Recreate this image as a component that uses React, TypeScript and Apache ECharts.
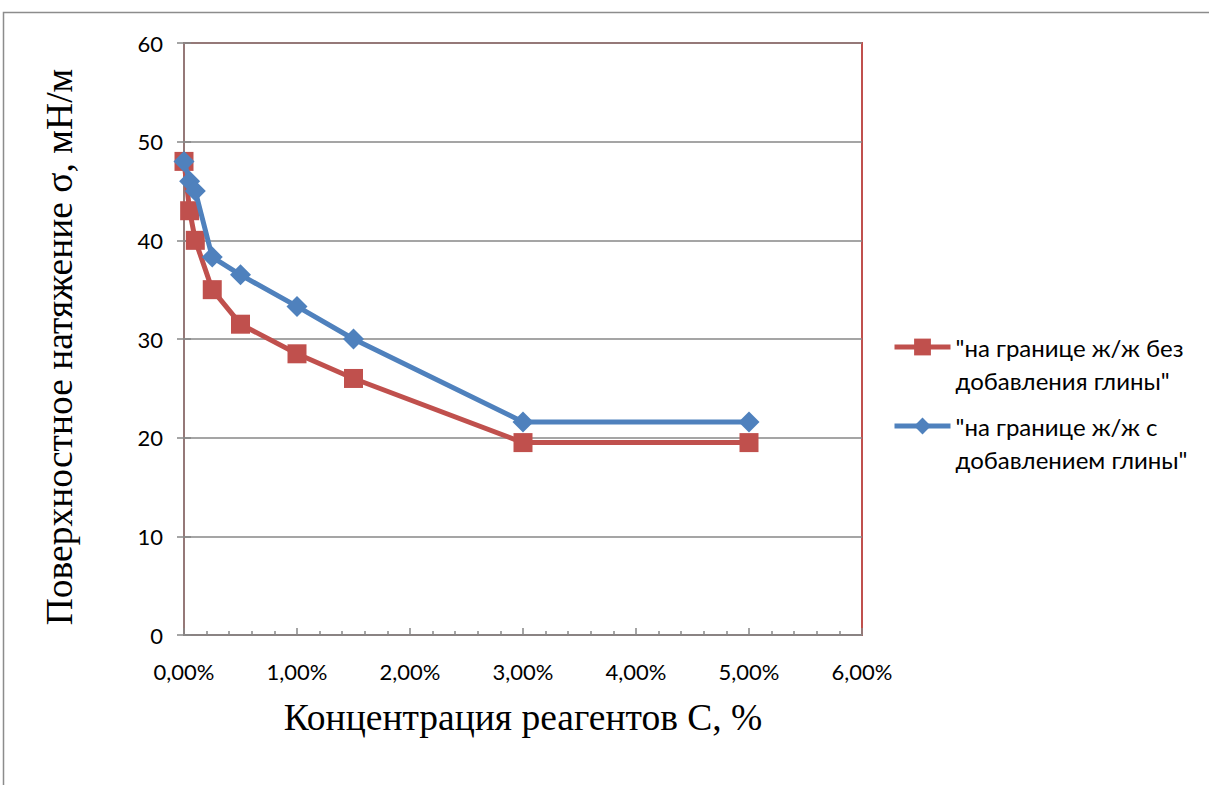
import { useEffect, useRef } from "react";
import * as echarts from "echarts";

// Reagent concentration, %
const concentration = [0, 0.05, 0.1, 0.25, 0.5, 1, 1.5, 3, 5];
// Surface tension, mN/m
const withoutClay = [48, 43, 40, 35, 31.5, 28.5, 26, 19.5, 19.5];
const withClay = [48, 46, 45, 38.3, 36.5, 33.3, 30, 21.6, 21.6];

const seriesNames = [
  '"на границе ж/ж без\nдобавления глины"',
  '"на границе ж/ж с\nдобавлением глины"',
];
const xTitle = "Концентрация реагентов С, %";
const yTitle = "Поверхностное натяжение σ, мН/м";

const RED = "#C0504D";
const BLUE = "#4F81BD";
const GRAY = "#878787";
const LABEL_FONT = "Lato, 'Noto Sans', sans-serif";
const SERIF = "'Liberation Serif', 'DejaVu Serif', serif";

export default function App() {
  const ref = useRef<HTMLDivElement>(null);

  useEffect(() => {
    if (!ref.current) return;
    const chart = echarts.init(ref.current, undefined, { renderer: "svg" });

    const pairs = (ys: number[]) => concentration.map((x, i) => [x, ys[i]]);

    // Legend entries: the leading blank line puts the first text line level with the icon
    const legendFor = (name: string, top: number) => ({
      data: [name],
      left: 892,
      top,
      orient: "vertical",
      itemWidth: 56,
      itemHeight: 21,
      padding: 0,
      lineStyle: { width: 5 },
      formatter: (n: string) => "\n" + n,
      textStyle: {
        color: "#000",
        fontFamily: LABEL_FONT,
        fontSize: 24,
        lineHeight: 33,
      },
    });

    chart.setOption({
      animation: false,
      backgroundColor: "#fff",
      graphic: [
        {
          type: "polyline",
          shape: { points: [[3.5, 800], [3.5, 12.5], [1220, 12.5]] },
          style: { stroke: "#8c8c8c", lineWidth: 1.5, fill: "none" },
          z: 0,
        },
      ],
      grid: {
        left: 184,
        top: 43,
        width: 678,
        height: 592,
        show: true,
        borderColor: RED,
        borderWidth: 2,
        backgroundColor: "transparent",
      },
      legend: [legendFor(seriesNames[0], 297.5), legendFor(seriesNames[1], 376.5)],
      xAxis: {
        type: "value",
        min: 0,
        max: 6,
        interval: 1,
        name: xTitle,
        nameLocation: "middle",
        nameGap: 63,
        nameTextStyle: { fontFamily: SERIF, fontSize: 37.5, color: "#000" },
        axisLine: { show: true, lineStyle: { color: GRAY, width: 1.5 } },
        axisTick: { show: true, inside: true, length: 7, lineStyle: { color: GRAY, width: 1.5 } },
        minorTick: { show: true, splitNumber: 5, length: 4, lineStyle: { color: GRAY, width: 1.5 } },
        splitLine: { show: false },
        axisLabel: {
          margin: 25,
          color: "#000",
          fontFamily: LABEL_FONT,
          fontSize: 22,
          formatter: (v: number) => v.toFixed(2).replace(".", ",") + "%",
        },
      },
      yAxis: [
        {
          type: "value",
          min: 0,
          max: 60,
          interval: 10,
          position: "left",
          name: yTitle,
          nameLocation: "middle",
          nameGap: 106,
          nameTextStyle: {
            fontFamily: SERIF,
            fontSize: 37.5,
            color: "#000",
            padding: [0, 16, 0, 0],
          },
          axisLine: { show: true, lineStyle: { color: GRAY, width: 1.5 } },
          axisTick: { show: true, length: 7, lineStyle: { color: GRAY, width: 1.5 } },
          splitLine: { show: true, lineStyle: { color: GRAY, width: 1.5 } },
          axisLabel: {
            margin: 21,
            color: "#000",
            fontFamily: LABEL_FONT,
            fontSize: 22,
          },
        },
        {
          // inner half of the crossing ticks on the value axis
          type: "value",
          min: 0,
          max: 60,
          interval: 10,
          position: "left",
          axisLine: { show: false },
          axisTick: { show: true, inside: true, length: 7, lineStyle: { color: GRAY, width: 1.5 } },
          splitLine: { show: false },
          axisLabel: { show: false },
        },
      ],
      series: [
        {
          name: seriesNames[0],
          type: "line",
          data: pairs(withoutClay),
          symbol: "rect",
          symbolSize: 19,
          lineStyle: { color: RED, width: 5 },
          itemStyle: { color: RED },
          z: 3,
        },
        {
          name: seriesNames[1],
          type: "line",
          data: pairs(withClay),
          symbol: "diamond",
          symbolSize: 21,
          lineStyle: { color: BLUE, width: 5 },
          itemStyle: { color: BLUE },
          z: 4,
        },
      ],
    });

    return () => chart.dispose();
  }, []);

  return (
    <div
      ref={ref}
      style={{ position: "absolute", left: 0, top: 0, width: 1209, height: 785 }}
    />
  );
}
